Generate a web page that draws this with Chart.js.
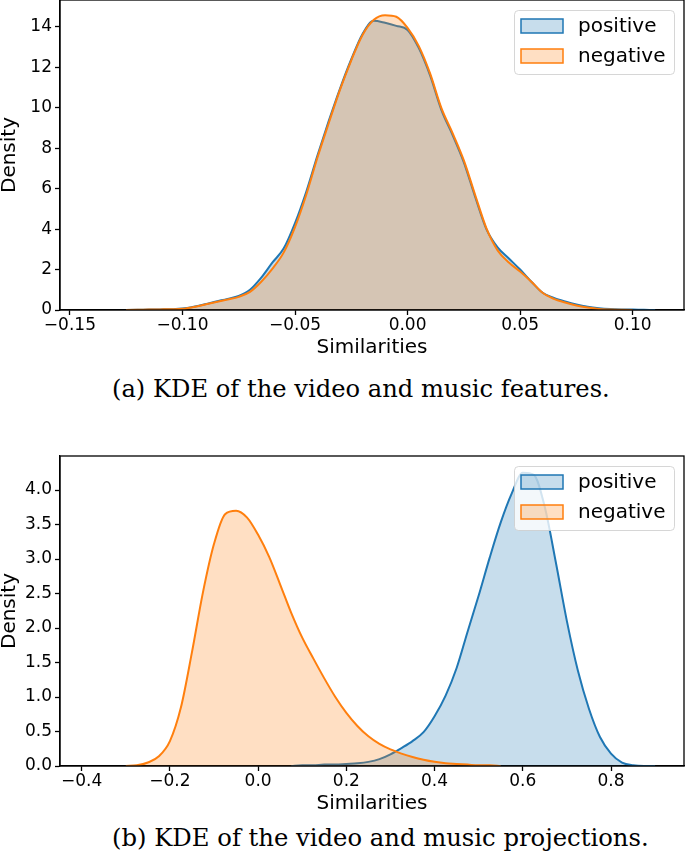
<!DOCTYPE html>
<html><head><meta charset="utf-8">
<script src="https://cdn.jsdelivr.net/npm/chart.js@4"></script>
<style>
html,body{margin:0;padding:0;background:#fff;width:685px;height:857px;overflow:hidden;}
#wrap{position:relative;width:685px;height:857px;}
canvas{position:absolute;left:0;}
.cap{position:absolute;font-family:"DejaVu Serif";color:#000;white-space:nowrap;line-height:1;}
</style></head><body>
<div id="wrap">
<canvas id="ca" width="685" height="362" style="top:0"></canvas>
<div id="capA" class="cap">(a) KDE of the video and music features.</div>
<canvas id="cb" width="685" height="372" style="top:446px"></canvas>
<div id="capB" class="cap">(b) KDE of the video and music projections.</div>
</div>
<script>
// ---- Data: chart (a) KDE of features ----
const xA = [-0.125,-0.12,-0.115,-0.11,-0.105,-0.10,-0.095,-0.09,-0.085,-0.08,-0.075,-0.07,-0.065,-0.06,-0.055,-0.05,-0.045,-0.04,-0.035,-0.03,-0.025,-0.02,-0.015,-0.01,-0.005,0.0,0.005,0.01,0.015,0.02,0.025,0.03,0.035,0.04,0.045,0.05,0.055,0.06,0.065,0.07,0.075,0.08,0.085,0.09,0.095,0.10,0.105,0.11];
const posA = [0.0,0.01,0.02,0.03,0.04,0.07,0.16,0.28,0.42,0.55,0.70,1.00,1.60,2.35,3.05,4.30,5.85,7.65,9.35,10.95,12.40,13.65,14.30,14.20,14.05,13.85,12.95,11.60,9.90,8.65,7.30,5.60,4.00,3.10,2.55,2.00,1.40,0.85,0.60,0.42,0.27,0.16,0.09,0.05,0.03,0.02,0.01,0.0];
const negA = [0.0,0.01,0.02,0.03,0.04,0.06,0.15,0.27,0.40,0.52,0.65,0.90,1.40,2.05,2.85,4.10,5.70,7.55,9.25,10.90,12.35,13.60,14.35,14.58,14.50,13.95,13.05,11.70,10.00,8.75,7.40,5.70,4.05,2.95,2.35,1.90,1.40,0.85,0.55,0.37,0.22,0.12,0.05,0.02,0.01,0.0,null,null];
const xTicksA = [-0.15,-0.10,-0.05,0.00,0.05,0.10];
const yTicksA = [0,2,4,6,8,10,12,14];

// ---- Data: chart (b) KDE of projections ----
const xNegB = [-0.300,-0.275,-0.250,-0.225,-0.200,-0.175,-0.150,-0.125,-0.100,-0.075,-0.050,-0.025,0.000,0.025,0.050,0.075,0.100,0.125,0.150,0.175,0.200,0.225,0.250,0.275,0.300,0.325,0.350,0.375,0.400,0.425,0.450,0.475,0.500,0.525,0.550];
const negB = [0.0,0.01,0.05,0.14,0.36,0.85,1.65,2.52,3.22,3.65,3.70,3.60,3.35,3.03,2.63,2.22,1.86,1.56,1.27,1.00,0.77,0.58,0.43,0.32,0.24,0.18,0.13,0.09,0.06,0.04,0.03,0.02,0.01,0.01,0.0];
const xPosB = [0.075,0.100,0.125,0.150,0.175,0.200,0.225,0.250,0.275,0.300,0.325,0.350,0.375,0.400,0.425,0.450,0.475,0.500,0.525,0.550,0.575,0.600,0.625,0.650,0.675,0.700,0.725,0.750,0.775,0.800,0.825,0.850,0.875,0.900];
const posB = [0.0,0.01,0.01,0.02,0.02,0.03,0.04,0.06,0.10,0.17,0.26,0.36,0.49,0.72,1.02,1.42,1.95,2.47,3.02,3.53,3.95,4.25,4.22,3.75,2.95,2.10,1.38,0.83,0.42,0.18,0.05,0.01,0.0,0.0];
const xTicksB = [-0.4,-0.2,0.0,0.2,0.4,0.6,0.8];
const yTicksB = [0.0,0.5,1.0,1.5,2.0,2.5,3.0,3.5,4.0];

const labels = ['positive','negative'];

// ---- Styles ----
const BLUE = '#1f77b4', ORANGE = '#ff7f0e';
const BLUE_F = 'rgba(31,119,180,0.25)', ORANGE_F = 'rgba(255,127,14,0.25)';
const tickFont = {family:'DejaVu Sans', size:17, lineHeight:1};
const titleFont = {family:'DejaVu Sans', size:20, lineHeight:1};

function fmt(v, d){ return (v < 0 ? '\u2212' : '') + Math.abs(v).toFixed(d); }
function pts(xs, ys){ return xs.map((x,i)=>({x:x, y:ys[i]})); }

const framePlugin = { id:'frame', afterDraw(chart){
  const {ctx, chartArea:a} = chart;
  ctx.save(); ctx.strokeStyle='#000'; ctx.lineWidth=1.3;
  ctx.strokeRect(a.left, a.top, a.right-a.left, a.bottom-a.top);
  ctx.restore();
}};
const legendPlugin = { id:'boxLegend', afterDraw(chart){
  const {ctx, chartArea:a} = chart;
  const w=160, h=64, x=a.right-10-w, y=a.top+10;
  ctx.save();
  ctx.beginPath(); ctx.roundRect(x+0.5, y+0.5, w, h, 4);
  ctx.fillStyle='rgba(255,255,255,0.8)'; ctx.fill();
  ctx.strokeStyle='rgba(204,204,204,0.8)'; ctx.lineWidth=1; ctx.stroke();
  chart.data.datasets.forEach((ds,i)=>{
    const cy = y+16+30*i;
    ctx.fillStyle = ds.backgroundColor; ctx.fillRect(x+7, cy-7, 42, 14);
    ctx.strokeStyle = ds.borderColor; ctx.lineWidth=1.5; ctx.strokeRect(x+7, cy-7, 42, 14);
    ctx.fillStyle='#000'; ctx.font='20px "DejaVu Sans"'; ctx.textBaseline='middle'; ctx.textAlign='left';
    ctx.fillText(ds.label, x+64, cy+1);
  });
  ctx.restore();
}};

function axisX(min, max, ticksArr, dec){
  return { type:'linear', min:min, max:max,
    afterBuildTicks: s => { s.ticks = ticksArr.map(v=>({value:v})); },
    ticks:{font:tickFont, color:'#000', padding:2, maxRotation:0, autoSkip:false, callback:v=>fmt(v,dec)},
    grid:{display:true, drawOnChartArea:false, drawTicks:true, tickLength:5, tickColor:'#000', tickWidth:1.3},
    border:{display:true, color:'#000', width:1.3},
    title:{display:true, text:'Similarities', font:titleFont, color:'#000', padding:{top:0,bottom:4}},
    afterFit: s => { s.height = 52; s.paddingLeft = 0; s.paddingRight = 0; }
  };
}
function axisY(min, max, ticksArr, dec){
  return { type:'linear', min:min, max:max,
    afterBuildTicks: s => { s.ticks = ticksArr.map(v=>({value:v})); },
    ticks:{font:tickFont, color:'#000', padding:3, autoSkip:false, callback:v=>fmt(v,dec)},
    grid:{display:true, drawOnChartArea:false, drawTicks:true, tickLength:5, tickColor:'#000', tickWidth:1.3},
    border:{display:true, color:'#000', width:1.3},
    title:{display:true, text:'Density', font:titleFont, color:'#000', padding:{top:0,bottom:0}},
    afterFit: s => { s.width = 60; s.paddingTop = 0; s.paddingBottom = 0; }
  };
}
function ds(label, data, line, fill, order){
  return {label:label, data:data, borderColor:line, backgroundColor:fill, fill:'origin',
    borderWidth:2, pointRadius:0, cubicInterpolationMode:'monotone', order:order, spanGaps:false};
}
function common(padTop, xs, ys){
  return { responsive:false, animation:false, devicePixelRatio:1,
    layout:{padding:{top:padTop, right:1, left:0, bottom:0}},
    plugins:{legend:{display:false}, tooltip:{enabled:false}},
    scales:{x:xs, y:ys} };
}

new Chart(document.getElementById('ca'), {
  type:'line',
  data:{datasets:[ ds(labels[0], pts(xA,posA), BLUE, BLUE_F, 1), ds(labels[1], pts(xA,negA), ORANGE, ORANGE_F, 0) ]},
  options: common(0, axisX(-0.1544, 0.1228, xTicksA, 2), axisY(0, 15.33, yTicksA, 0)),
  plugins:[framePlugin, legendPlugin]
});
new Chart(document.getElementById('cb'), {
  type:'line',
  data:{datasets:[ ds(labels[0], pts(xPosB,posB), BLUE, BLUE_F, 1), ds(labels[1], pts(xNegB,negB), ORANGE, ORANGE_F, 0) ]},
  options: common(10, axisX(-0.4492, 0.9655, xTicksB, 1), axisY(0, 4.493, yTicksB, 1)),
  plugins:[framePlugin, legendPlugin]
});

function fitCap(id, targetW, left, baseline){
  const el = document.getElementById(id);
  const c = document.createElement('canvas').getContext('2d');
  c.font = '100px "DejaVu Serif"';
  const w = c.measureText(el.textContent).width;
  const size = 100*targetW/w;
  el.style.fontSize = size+'px';
  el.style.left = left+'px';
  el.style.top = (baseline - 0.846*size)+'px';
}
fitCap('capA', 498, 112, 397);
fitCap('capB', 537, 112, 847);
</script>
</body></html>
